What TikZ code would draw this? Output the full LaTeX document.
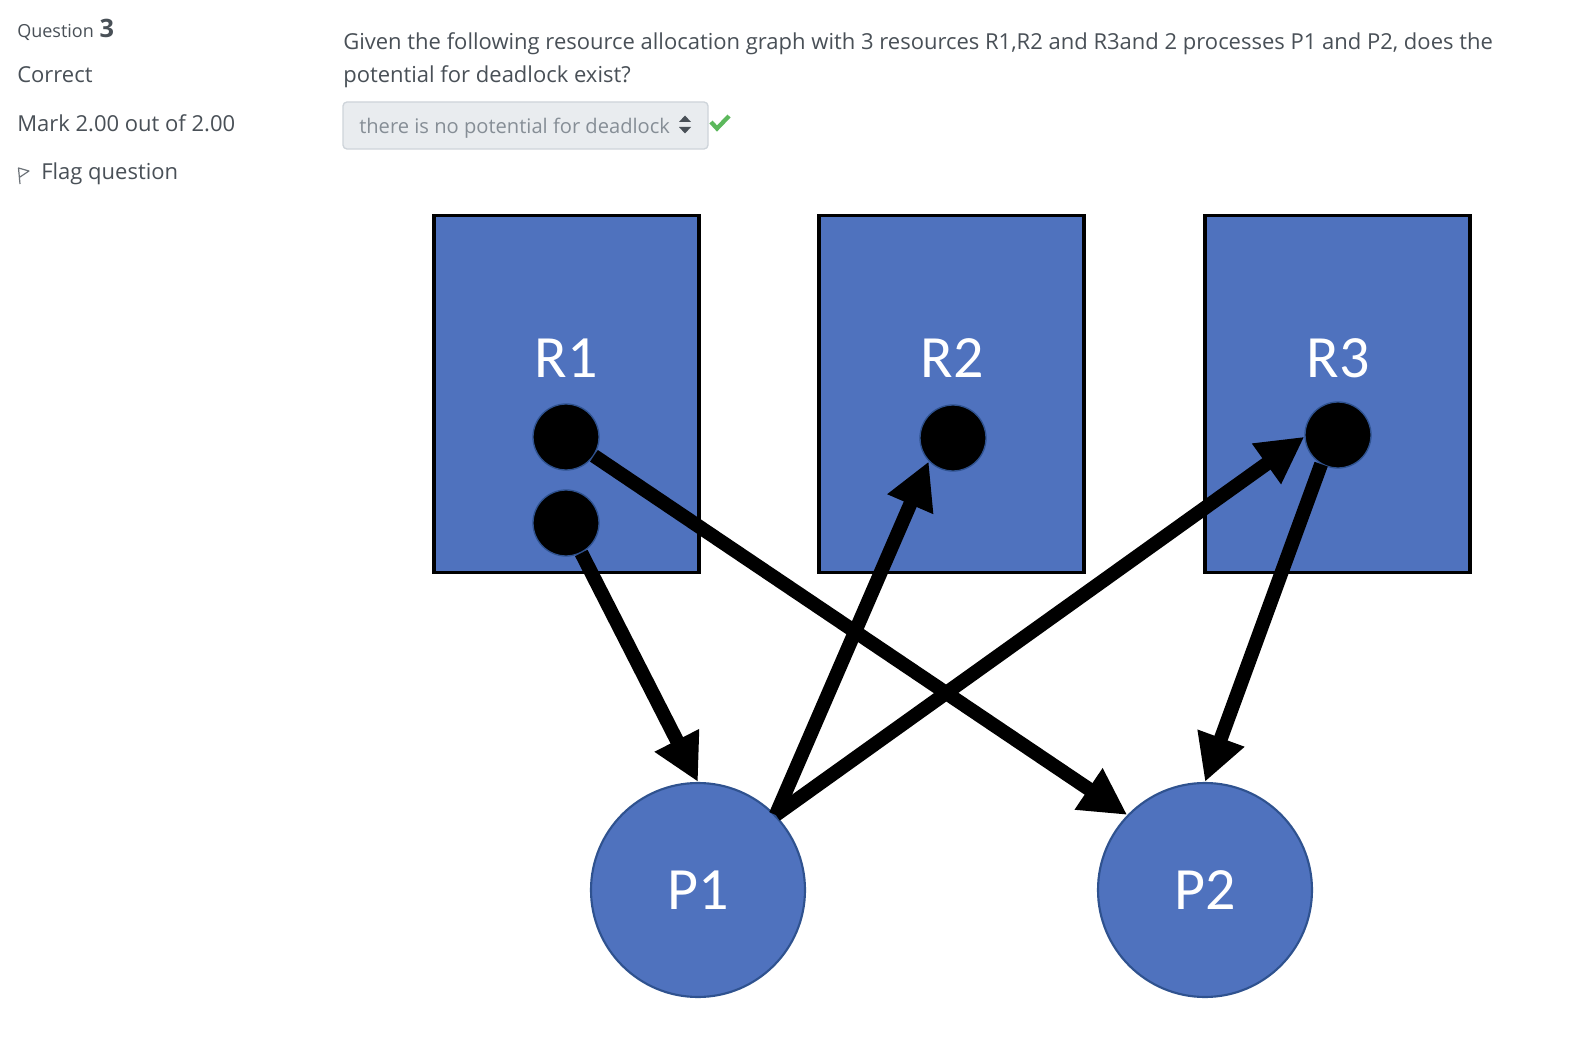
\documentclass[tikz,border=0pt]{standalone}
\usepackage{fontspec}
\setmainfont{Open Sans}
\newfontfamily\carlito{Carlito}
\usetikzlibrary{arrows.meta}
\definecolor{txt}{HTML}{495057}
\definecolor{boxblue}{RGB}{79,114,190}
\definecolor{edgeblue}{RGB}{47,82,143}
\definecolor{selbg}{HTML}{E9ECEF}
\definecolor{selbd}{HTML}{CED4DA}
\definecolor{seltxt}{HTML}{868E96}
\definecolor{okgreen}{HTML}{5CB85C}
\begin{document}
\begin{tikzpicture}[x=0.75pt,y=-0.75pt,
  lbl/.style={inner sep=0pt,anchor=base west,text=txt,font=\fontsize{16.5pt}{20pt}\selectfont},
  resbox/.style={draw=black,line width=2.6pt,fill=boxblue,minimum width=198.75pt,minimum height=267.75pt,inner sep=0pt},
  reslabel/.style={inner sep=0pt,anchor=base,text=white,font=\carlito\fontsize{45pt}{50pt}\selectfont},
  dot/.style={circle,fill=black,draw=edgeblue,line width=1pt,minimum size=49.5pt,inner sep=0pt},
  proc/.style={circle,fill=boxblue,draw=edgeblue,line width=1.6pt,minimum size=160.5pt,inner sep=0pt,text=white,font=\carlito\fontsize{45pt}{50pt}\selectfont},
  arr/.style={line width=10.5pt,-{Triangle[length=35pt,width=35pt]}}]
\useasboundingbox[fill=white] (0,0) rectangle (1586,1056);
% left column
\node[lbl,font=\fontsize{13.5pt}{16pt}\selectfont] (q) at (17,38) {Question};
\node[lbl,font=\bfseries\fontsize{19pt}{22pt}\selectfont,anchor=base west] (qn) at ([xshift=4pt]q.base east) {3};
\node[lbl] (corr) at (17,83) {Correct};
\node[lbl] (mark) at (17,132) {Mark 2.00 out of 2.00};
\node[lbl] (flag) at (41,180) {Flag question};
\draw[txt!80,line width=0.9pt,line join=round] (20,184) -- (18.5,168) -- (29,171) -- (20,177);
% question text
\node[lbl] (q1) at (343,50) {Given the following resource allocation graph with 3 resources R1,R2 and R3and 2 processes P1 and P2, does the};
\node[lbl] (q2) at (343,83) {potential for deadlock exist?};
% dropdown
\node[draw=selbd,line width=1pt,fill=selbg,rounded corners=3pt,minimum width=273.75pt,minimum height=35.25pt,inner sep=0pt] (sel) at (525.5,125.5) {};
\node[lbl,text=seltxt,font=\fontsize{15.1pt}{18pt}\selectfont] (seltext) at (359,133) {there is no potential for deadlock};
\fill[txt] (679,122) -- (691,122) -- (685,115.5) -- cycle;
\fill[txt] (679,127) -- (691,127) -- (685,133.5) -- cycle;
\draw[okgreen,line width=3.2pt] (711,122) -- (717,128.5) -- (729,116);
% resources
\node[resbox] (R1) at (566.5,393.75) {};
\node[resbox] (R2) at (951.5,393.75) {};
\node[resbox] (R3) at (1337.5,393.75) {};
\node[reslabel] (l1) at (566,377) {R1};
\node[reslabel] (l2) at (952,377) {R2};
\node[reslabel] (l3) at (1338,377) {R3};
\node[dot] (r1a) at (566,437) {};
\node[dot] (r1b) at (566,523) {};
\node[dot] (r2d) at (953,438) {};
\node[dot] (r3d) at (1338,435) {};
% processes
\node[proc] (P1) at (698,890) {P1};
\node[proc] (P2) at (1205,890) {P2};
% edges
\draw[arr] (r1a) -- (P2.136);
\draw[arr] (r1b) -- (P1.north);
\draw[arr] (P1.44) -- (r2d.224);
\draw[arr] (P1.44) -- (r3d.183);
\draw[arr] (r3d.240) -- (P2.north);
\end{tikzpicture}
\end{document}
